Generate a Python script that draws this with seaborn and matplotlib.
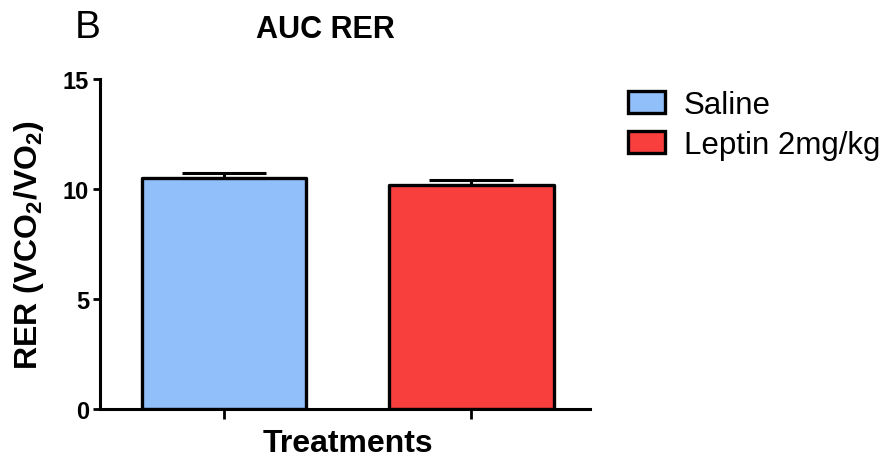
import matplotlib
matplotlib.use("Agg")
import matplotlib.pyplot as plt
import seaborn as sns
import pandas as pd
from matplotlib.patches import Patch

groups = ["Saline", "Leptin 2mg/kg"]
means = [10.5, 10.2]
sems = [0.23, 0.22]
colors = ["#90BFF9", "#F93E3E"]
yticks = [0, 5, 10, 15]

sns.set_theme(style="ticks")
plt.rcParams["font.family"] = ["Liberation Sans", "DejaVu Sans"]
plt.rcParams["mathtext.fontset"] = "custom"
plt.rcParams["mathtext.rm"] = "Liberation Sans"
plt.rcParams["mathtext.bf"] = "Liberation Sans:bold"
plt.rcParams["text.color"] = "black"
plt.rcParams["axes.labelcolor"] = "black"

df = pd.DataFrame({"group": groups, "mean": means, "sem": sems})

fig = plt.figure(figsize=(8.86, 4.6), dpi=100)
ax = fig.add_axes([100/886, 50/460, 490/886, 330/460])

sns.barplot(data=df, x="group", y="mean", hue="group", palette=colors,
            saturation=1, edgecolor="black", linewidth=2.4, width=0.665,
            dodge=False, errorbar=None, legend=False, ax=ax)
for p in ax.patches:
    p.set_joinstyle("round")

ax.errorbar(x=list(range(len(groups))), y=df["mean"],
            yerr=[[0]*len(groups), df["sem"]], fmt="none",
            ecolor="black", elinewidth=2.2, capsize=30, capthick=2.2, zorder=1)

ax.set_xlim(-0.502, 1.48)
ax.set_ylim(0, 15)
ax.set_yticks(yticks)
ax.set_yticklabels([str(t) for t in yticks], fontsize=17, fontweight="bold")
ax.set_xticks(range(len(groups)))
ax.set_xticklabels(["", ""])
ax.tick_params(axis="y", length=5, width=2, pad=3, colors="black")
ax.tick_params(axis="x", length=7, width=2, colors="black")
for s in ["top", "right"]:
    ax.spines[s].set_visible(False)
for s in ["left", "bottom"]:
    ax.spines[s].set_linewidth(2.2)
    ax.spines[s].set_color("black")

ax.set_xlabel("Treatments", fontsize=23, fontweight="bold")
ax.xaxis.set_label_coords(0.506, -0.059)
ax.set_ylabel(r"RER (VCO$_\mathbf{2}$/VO$_\mathbf{2}$)", fontsize=23,
              fontweight="bold")
ax.yaxis.set_label_coords(-0.11, 0.5)

fig.text(325/886, 1 - 30/460, "AUC RER", fontsize=22, fontweight="bold",
         ha="center", va="center")
fig.text(75/886, 1 - 28/460, "B", fontsize=28, ha="left", va="center")

handles = [Patch(facecolor=c, edgecolor="black", linewidth=2.4, label=g)
           for g, c in zip(groups, colors)]
fig.legend(handles=handles, loc="upper left",
           bbox_to_anchor=(628/886, 1 - 91/460), frameon=False,
           fontsize=22.5, handlelength=1.17, handleheight=0.72,
           handletextpad=0.62, labelspacing=0.32, borderpad=0, borderaxespad=0)

fig.savefig("out.png", dpi=100)
